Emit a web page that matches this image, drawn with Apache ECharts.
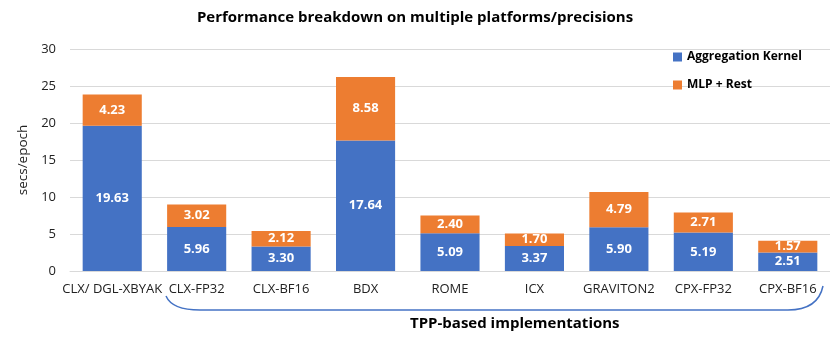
<!DOCTYPE html>
<html>
<head>
<meta charset="utf-8">
<script src="https://cdn.jsdelivr.net/npm/echarts@6/dist/echarts.min.js"></script>
<style>
  html, body { margin: 0; padding: 0; background: #fff; }
  #main { width: 830px; height: 344px; }
</style>
</head>
<body>
<div id="main"></div>
<script>
// 平台/精度
const categories = ['CLX/ DGL-XBYAK', 'CLX-FP32', 'CLX-BF16', 'BDX', 'ROME', 'ICX', 'GRAVITON2', 'CPX-FP32', 'CPX-BF16']
// 每个平台的耗时
const aggregationKernel = [19.63, 5.96, 3.30, 17.64, 5.09, 3.37, 5.90, 5.19, 2.51]
const mlpRest = [4.23, 3.02, 2.12, 8.58, 2.40, 1.70, 4.79, 2.71, 1.57]
const seriesNames = ['Aggregation Kernel', 'MLP + Rest']

const font = 'Open Sans'
const myChart = echarts.init(document.getElementById('main'))

const labelOption = {
  show: true,
  position: 'inside',
  color: '#fff',
  fontWeight: 'bold',
  fontSize: 13,
  fontFamily: font,
  formatter: p => p.value.toFixed(2),
}

// 下方括号的线条样式
const bracketStyle = { stroke: '#4472c4', lineWidth: 1.5, fill: null }

const option = {
  animation: false,
  title: {
    text: 'Performance breakdown on multiple platforms/precisions',
    left: 'center',
    top: 5,
    textStyle: { fontSize: 15, fontWeight: 'bold', fontFamily: font, color: '#000' },
  },
  legend: {
    data: seriesNames,
    orient: 'vertical',
    left: 668,
    top: 46,
    itemWidth: 9,
    itemHeight: 9,
    itemGap: 16,
    icon: 'rect',
    textStyle: { fontSize: 12, fontWeight: 'bold', fontFamily: font, color: '#000' },
  },
  grid: { left: 70, right: 0, top: 49, bottom: 73 },
  xAxis: {
    type: 'category',
    data: categories,
    axisTick: { show: false },
    axisLine: { lineStyle: { color: '#d9d9d9' } },
    axisLabel: { fontSize: 13, fontFamily: font, color: '#222', margin: 12, interval: 0 },
  },
  yAxis: {
    type: 'value',
    min: 0,
    max: 30,
    interval: 5,
    name: 'secs/epoch',
    nameLocation: 'middle',
    nameGap: 34,
    nameTextStyle: { fontSize: 13.5, fontFamily: font, color: '#222' },
    axisLabel: { fontSize: 13, fontFamily: font, color: '#222', margin: 14 },
    splitLine: { lineStyle: { color: '#d9d9d9' } },
  },
  series: [
    {
      name: seriesNames[0],
      type: 'bar',
      stack: 'total',
      barWidth: '70%',
      itemStyle: { color: '#4472c4' },
      label: labelOption,
      data: aggregationKernel,
    },
    {
      name: seriesNames[1],
      type: 'bar',
      stack: 'total',
      barWidth: '70%',
      itemStyle: { color: '#ed7d31' },
      label: labelOption,
      data: mlpRest,
    },
  ],
  graphic: [
    {
      type: 'bezierCurve',
      shape: { x1: 166, y1: 296, cpx1: 172, cpy1: 310, x2: 200, y2: 310 },
      style: bracketStyle,
    },
    {
      type: 'line',
      shape: { x1: 200, y1: 310, x2: 788, y2: 310 },
      style: bracketStyle,
    },
    {
      type: 'bezierCurve',
      shape: { x1: 788, y1: 310, cpx1: 818, cpy1: 310, x2: 823, y2: 286 },
      style: bracketStyle,
    },
    {
      type: 'text',
      left: 410,
      top: 316,
      style: { text: 'TPP-based implementations', fontSize: 15, fontWeight: 'bold', fontFamily: font, fill: '#000' },
    },
  ],
}

option && myChart.setOption(option)
</script>
</body>
</html>
